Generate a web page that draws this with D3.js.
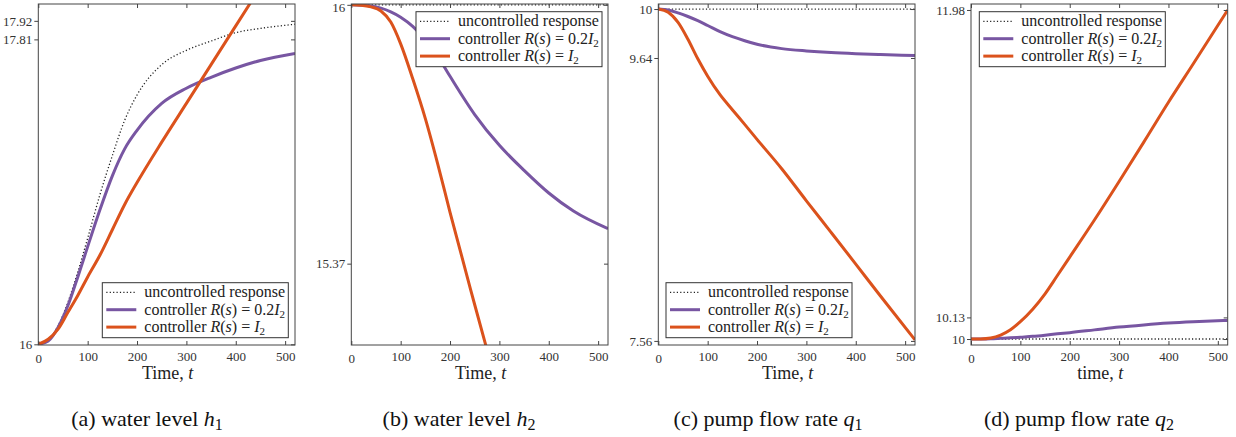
<!DOCTYPE html>
<html>
<head>
<meta charset="utf-8">
<script src="https://cdn.jsdelivr.net/npm/d3@7"></script>
<style>
  body { margin: 0; background: #fff; }
</style>
</head>
<body>
<script>
(function() {
  'use strict';

  // sample times shared by every curve
  const tGrid = [0, 20, 40, 60, 80, 100, 125, 150, 175, 200, 250, 300, 350, 400, 450, 520];
  const xTicks = [0, 100, 200, 300, 400, 500];

  // (a) water level h1
  const h1Uncontrolled = [16, 16.025, 16.11, 16.25, 16.43, 16.63, 16.89, 17.12, 17.33, 17.48, 17.66, 17.745, 17.80, 17.85, 17.875, 17.90];
  const h1Low = [16, 16.02, 16.10, 16.23, 16.40, 16.58, 16.80, 17.00, 17.16, 17.27, 17.43, 17.52, 17.585, 17.64, 17.685, 17.727];
  const h1High = [16, 16.03, 16.09, 16.19, 16.29, 16.40, 16.53, 16.68, 16.83, 16.96, 17.20, 17.43, 17.66, 17.89, 18.12, null];
  const h1Ticks = [16, 17.81, 17.92];

  // (b) water level h2
  const h2Uncontrolled = [16, 16, 16, 16, 16, 16, 16, 16, 16, 16, 16, 16, 16, 16, 16, 16];
  const h2Low = [16, 15.999, 15.997, 15.992, 15.983, 15.970, 15.947, 15.915, 15.875, 15.826, 15.733, 15.658, 15.597, 15.542, 15.498, 15.455];
  const h2High = [16, 15.999, 15.995, 15.985, 15.958, 15.905, 15.818, 15.723, 15.613, 15.495, 15.27, 15.05, null, null, null, null];
  const h2Ticks = [16, 15.37];

  // (c) pump flow rate q1
  const q1Uncontrolled = [10, 10, 10, 10, 10, 10, 10, 10, 10, 10, 10, 10, 10, 10, 10, 10];
  const q1Low = [10, 9.993, 9.972, 9.945, 9.914, 9.879, 9.834, 9.797, 9.767, 9.741, 9.709, 9.692, 9.680, 9.672, 9.666, 9.658];
  const q1High = [10, 9.976, 9.902, 9.778, 9.634, 9.506, 9.37, 9.26, 9.152, 9.042, 8.826, 8.59, 8.358, 8.125, 7.89, 7.568];
  const q1Ticks = [10, 9.64, 7.56];

  // (d) pump flow rate q2
  const q2Uncontrolled = [10, 10, 10, 10, 10, 10, 10, 10, 10, 10, 10, 10, 10, 10, 10, 10];
  const q2Low = [10, 10, 10.001, 10.004, 10.007, 10.011, 10.016, 10.023, 10.031, 10.038, 10.055, 10.072, 10.085, 10.096, 10.104, 10.112];
  const q2High = [10, 10.0005, 10.006, 10.024, 10.056, 10.104, 10.179, 10.272, 10.382, 10.493, 10.716, 10.948, 11.185, 11.425, 11.655, 11.98];
  const q2Ticks = [10, 10.13, 11.98];

  const purple = '#7856a2';
  const orange = '#db521c';
  const frame = '#444';
  const serif = 'Liberation Serif';

  const W = 1236, H = 437;
  const top = 4, bottom = 345;
  const pw = 256.7;

  const panels = [
    { id: 'a', left: 38.3, domain: [15.996, 18.02], series: [h1Uncontrolled, h1Low, h1High], ticks: h1Ticks,
      xlabel: 'Time', legend: [102.3, 282.7], capX: 147, capPre: '(a) water level ', capVar: 'h', capSub: '1' },
    { id: 'b', left: 351.3, domain: [15.172, 16.002], series: [h2Uncontrolled, h2Low, h2High], ticks: h2Ticks,
      xlabel: 'Time', legend: [416, 11.7], capX: 459, capPre: '(b) water level ', capVar: 'h', capSub: '2' },
    { id: 'c', left: 658.3, domain: [7.53, 10.037], series: [q1Uncontrolled, q1Low, q1High], ticks: q1Ticks,
      xlabel: 'Time', legend: [666, 282.7], capX: 768, capPre: '(c) pump flow rate ', capVar: 'q', capSub: '1' },
    { id: 'd', left: 971, domain: [9.964, 12.016], series: [q2Uncontrolled, q2Low, q2High], ticks: q2Ticks,
      xlabel: 'time', legend: [979.3, 11.7], capX: 1079, capPre: '(d) pump flow rate ', capVar: 'q', capSub: '2' }
  ];

  const svg = d3.select('body').append('svg')
    .attr('width', W)
    .attr('height', H)
    .attr('font-family', serif);

  const styles = [
    { stroke: '#222', width: 1.3, dash: '1.2,2.2' },
    { stroke: purple, width: 3, dash: null },
    { stroke: orange, width: 3, dash: null }
  ];

  panels.forEach(function(p) {
    const x = d3.scaleLinear().domain([0, 520]).range([p.left, p.left + pw]);
    const y = d3.scaleLinear().domain(p.domain).range([bottom, top]);
    const g = svg.append('g').attr('id', 'panel-' + p.id);

    g.append('clipPath').attr('id', 'clip-' + p.id)
      .append('rect')
      .attr('x', p.left).attr('y', top)
      .attr('width', pw).attr('height', bottom - top);

    // curves
    const line = d3.line()
      .defined((d) => d[1] !== null)
      .x((d) => x(d[0]))
      .y((d) => y(d[1]))
      .curve(d3.curveMonotoneX);

    p.series.forEach(function(vals, i) {
      const pts = tGrid.map((t, k) => [t, vals[k]]);
      g.append('path')
        .attr('clip-path', 'url(#clip-' + p.id + ')')
        .attr('d', line(pts))
        .attr('fill', 'none')
        .attr('stroke', styles[i].stroke)
        .attr('stroke-width', styles[i].width)
        .attr('stroke-dasharray', styles[i].dash);
    });

    // frame ticks: bottom/top inward, left outward, right inward
    const tickLen = 4;
    const xb = d3.axisBottom(x).tickValues(xTicks).tickSize(-tickLen).tickFormat(d3.format('d')).tickPadding(9);
    const xt = d3.axisTop(x).tickValues(xTicks).tickSize(-tickLen).tickFormat('');
    const yl = d3.axisLeft(y).tickValues(p.ticks).tickSize(tickLen).tickFormat((d) => String(d)).tickPadding(2);
    const yr = d3.axisRight(y).tickValues(p.ticks).tickSize(-tickLen).tickFormat('');

    [[xb, 'translate(0,' + bottom + ')'], [xt, 'translate(0,' + top + ')'],
      [yl, 'translate(' + p.left + ',0)'], [yr, 'translate(' + (p.left + pw) + ',0)']]
      .forEach(function(a) {
        const ax = g.append('g').attr('transform', a[1]).call(a[0]);
        ax.attr('font-family', serif).attr('font-size', 13);
        ax.select('.domain').remove();
        ax.selectAll('line').attr('stroke', frame);
        ax.selectAll('text').attr('fill', '#333');
      });

    // keep the top tick label inside the picture
    g.selectAll('g.tick text')
      .filter(function() { return d3.select(this.parentNode).datum() >= p.domain[1] - 0.01; })
      .attr('dy', '0.55em');

    g.append('rect')
      .attr('x', p.left).attr('y', top)
      .attr('width', pw).attr('height', bottom - top)
      .attr('fill', 'none')
      .attr('stroke', frame)
      .attr('stroke-width', 1);

    // axis title
    const xt2 = g.append('text')
      .attr('x', p.left + pw / 2 + 1)
      .attr('y', 379)
      .attr('text-anchor', 'middle')
      .attr('fill', '#222')
      .attr('font-size', 18);
    xt2.append('tspan').text(p.xlabel + ', ');
    xt2.append('tspan').attr('font-style', 'italic').text('t');

    // legend
    const lg = g.append('g').attr('transform', 'translate(' + p.legend[0] + ',' + p.legend[1] + ')');
    lg.append('rect')
      .attr('width', 186).attr('height', 55)
      .attr('fill', '#fff')
      .attr('stroke', '#333')
      .attr('stroke-width', 1);
    const rows = [
      [{ t: 'uncontrolled response' }],
      [{ t: 'controller ' }, { t: 'R', i: true }, { t: '(' }, { t: 's', i: true }, { t: ') = 0.2' }, { t: 'I', i: true }, { t: '2', sub: true }],
      [{ t: 'controller ' }, { t: 'R', i: true }, { t: '(' }, { t: 's', i: true }, { t: ') = ' }, { t: 'I', i: true }, { t: '2', sub: true }]
    ];
    rows.forEach(function(parts, i) {
      const ry = 9.6 + i * 17.4;
      lg.append('line')
        .attr('x1', 4).attr('x2', 34)
        .attr('y1', ry).attr('y2', ry)
        .attr('stroke', styles[i].stroke)
        .attr('stroke-width', styles[i].width)
        .attr('stroke-dasharray', styles[i].dash);
      const tx = lg.append('text')
        .attr('x', 42).attr('y', ry + 5)
        .attr('fill', '#222')
        .attr('font-size', 16);
      parts.forEach(function(s) {
        const ts = tx.append('tspan').text(s.t);
        if (s.i) ts.attr('font-style', 'italic');
        if (s.sub) ts.attr('dy', 3).attr('font-size', 11);
      });
    });

    // caption
    const cap = g.append('text')
      .attr('x', p.capX)
      .attr('y', 426)
      .attr('text-anchor', 'middle')
      .attr('fill', '#111')
      .attr('font-size', 22);
    cap.append('tspan').text(p.capPre);
    cap.append('tspan').attr('font-style', 'italic').text(p.capVar);
    cap.append('tspan').attr('dy', 4).attr('font-size', 16).text(p.capSub);
  });
}());
</script>
</body>
</html>
